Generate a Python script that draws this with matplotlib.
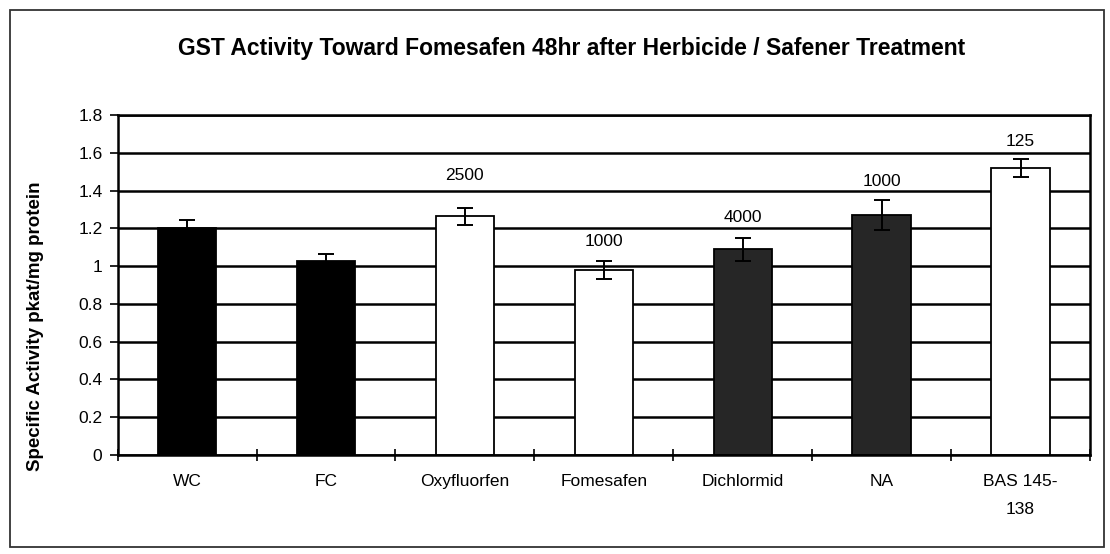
import matplotlib.pyplot as plt
from matplotlib.patches import Rectangle
from matplotlib.ticker import FuncFormatter

plt.rcParams['font.family'] = ['Liberation Sans', 'DejaVu Sans']

# treatments, activity and standard error
treatments = ['WC', 'FC', 'Oxyfluorfen', 'Fomesafen', 'Dichlormid', 'NA', 'BAS 145-\n138']
activity = [1.20, 1.03, 1.265, 0.98, 1.09, 1.27, 1.52]
err = [0.045, 0.035, 0.045, 0.05, 0.06, 0.08, 0.05]
rates = ['', '', '2500', '1000', '4000', '1000', '125']
rate_y = [None, None, 1.48, 1.13, 1.26, 1.45, 1.66]
bar_colors = ['black', 'black', 'white', 'white', '#262626', '#262626', 'white']

fig = plt.figure(figsize=(11.1, 5.54), dpi=100)
ax = fig.add_axes([0.106, 0.179, 0.876, 0.613])

x = list(range(len(treatments)))
ax.set_axisbelow(True)
ax.yaxis.grid(True, color='black', linewidth=1.8)
ax.bar(x, activity, width=0.42, color=bar_colors, edgecolor='black',
       linewidth=1.3, zorder=2)
ax.errorbar(x, activity, yerr=err, fmt='none', ecolor='black',
            elinewidth=1.4, capsize=6, capthick=1.4, zorder=3)

for xi, lab, yy in zip(x, rates, rate_y):
    if lab:
        ax.text(xi, yy, lab, ha='center', va='center', fontsize=12.5)

ax.set_xlim(-0.5, len(treatments) - 0.5)
ax.set_ylim(0, 1.8)
ax.set_yticks([i * 0.2 for i in range(10)])
ax.yaxis.set_major_formatter(FuncFormatter(lambda v, p: '%g' % round(v, 1)))
ax.tick_params(axis='y', direction='out', length=6, width=1.2, labelsize=12.5, pad=5)

# category labels at centres, tick marks on the boundaries
ax.set_xticks(x)
ax.set_xticklabels(treatments, fontsize=12.5, linespacing=2.1)
ax.tick_params(axis='x', which='major', length=0, pad=14)
ax.set_xticks([i - 0.5 for i in range(len(treatments) + 1)], minor=True)
ax.tick_params(axis='x', which='minor', direction='inout', length=8, width=1.2)

for s in ax.spines.values():
    s.set_linewidth(1.8)

ax.set_ylabel('Specific Activity pkat/mg protein', fontsize=13.5, fontweight='bold')
ax.yaxis.set_label_coords(-0.076, 0.38)
fig.text(0.515, 0.913, 'GST Activity Toward Fomesafen 48hr after Herbicide / Safener Treatment',
         ha='center', va='center', fontsize=16.5, fontweight='bold')

# outer chart border
fig.patches.append(Rectangle((0.009, 0.012), 0.986, 0.97, transform=fig.transFigure,
                             fill=False, edgecolor='#333333', linewidth=1.3))

fig.savefig('out.png', dpi=100)
